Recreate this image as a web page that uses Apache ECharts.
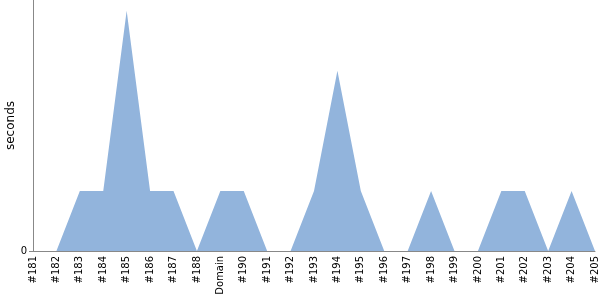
<!DOCTYPE html>
<html><head><meta charset="utf-8">
<script src="https://cdn.jsdelivr.net/npm/echarts@6/dist/echarts.min.js"></script>
<style>html,body{margin:0;padding:0;background:#fff}#c{width:600px;height:300px}</style>
</head><body><div id="c"></div>
<script>
const categories = ['#181','#182','#183','#184','#185','#186','#187','#188','Domain','#190','#191','#192','#193','#194','#195','#196','#197','#198','#199','#200','#201','#202','#203','#204','#205'];
const seconds = [0,0,1,1,4,1,1,0,1,1,0,0,1,3,1,0,0,1,0,0,1,1,0,1,0];
const yTicks = [0];

const chart = echarts.init(document.getElementById('c'), null, {renderer:'canvas'});
chart.setOption({
  animation: false,
  grid: {left: 33, right: 5, top: 0, bottom: 49, containLabel: false, outerBoundsMode: 'none'},
  xAxis: {
    type: 'category', data: categories, boundaryGap: false,
    axisLine: {lineStyle: {color: '#888'}},
    axisTick: {show: false},
    axisLabel: {rotate: 90, interval: 0, color: '#000', fontFamily: 'DejaVu Sans', fontSize: 10, margin: 5}
  },
  yAxis: {
    type: 'value', min: 0, max: 4.18,
    name: 'seconds', nameLocation: 'middle', nameGap: 16, nameRotate: 90, nameMoveOverlap: false,
    nameTextStyle: {color: '#000', fontFamily: 'DejaVu Sans', fontSize: 12},
    axisLine: {show: true, lineStyle: {color: '#888'}},
    axisTick: {show: true, length: 4, lineStyle: {color: '#888'}, customValues: yTicks},
    splitLine: {show: false},
    axisLabel: {color: '#000', fontFamily: 'DejaVu Sans', fontSize: 10, margin: 6, customValues: yTicks}
  },
  series: [{
    type: 'line', data: seconds, symbol: 'none',
    lineStyle: {width: 0}, areaStyle: {color: '#92b4dc', opacity: 1}
  }]
});
</script></body></html>
